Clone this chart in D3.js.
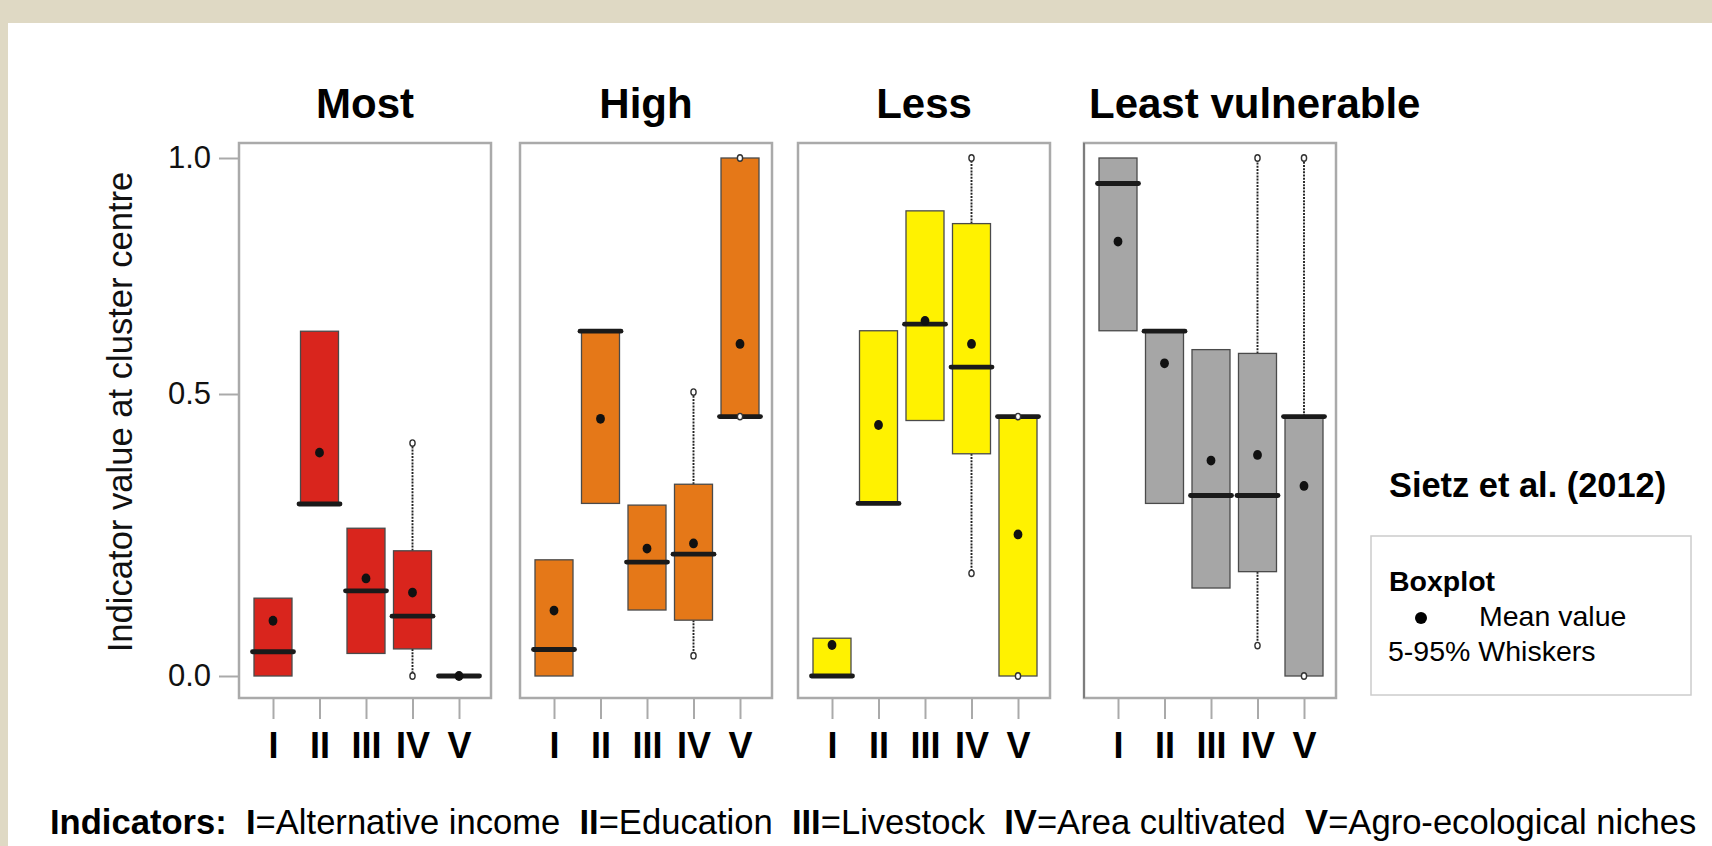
<!DOCTYPE html>
<html><head><meta charset="utf-8">
<script src="https://cdn.jsdelivr.net/npm/d3@7"></script>
<style>
html,body{margin:0;padding:0;background:#fff;}
svg{display:block;font-family:"Liberation Sans",Arial,Helvetica,sans-serif;}
</style>
</head><body>
<svg id="chart" width="1712" height="846"></svg>
<script>
// ---------------- data ----------------
const clusters = ["Most", "High", "Less", "Least vulnerable"];
const indicators = ["I", "II", "III", "IV", "V"];
const boxColors = ["#d9251d", "#e57818", "#fff200", "#a6a6a6"];
const yTicks = [0, 0.5, 1.0];
// rows: clusters, columns: indicators I..V
const q1 = [
  [0.000, 0.305, 0.040, 0.048, 0.000],
  [0.000, 0.306, 0.117, 0.099, 0.460],
  [0.000, 0.306, 0.453, 0.394, 0.000],
  [0.634, 0.306, 0.156, 0.185, 0.000]
];
const median = [
  [0.043, 0.305, 0.151, 0.106, 0.000],
  [0.047, 0.633, 0.202, 0.216, 0.460],
  [0.000, 0.306, 0.648, 0.557, 0.460],
  [0.946, 0.633, 0.320, 0.320, 0.460]
];
const q3 = [
  [0.138, 0.633, 0.262, 0.222, 0.000],
  [0.206, 0.633, 0.303, 0.340, 1.000],
  [0.067, 0.634, 0.888, 0.861, 0.460],
  [1.000, 0.633, 0.594, 0.586, 0.460]
];
const mean = [
  [0.098, 0.396, 0.173, 0.148, 0.000],
  [0.116, 0.456, 0.226, 0.235, 0.606],
  [0.055, 0.445, 0.655, 0.606, 0.251],
  [0.823, 0.565, 0.382, 0.392, 0.337]
];
const whiskLo = [
  [null, null, null, 0.000, null],
  [null, null, null, 0.036, 0.460],
  [null, null, null, 0.182, 0.000],
  [null, null, null, 0.054, 0.000]
];
const whiskHi = [
  [null, null, null, 0.413, null],
  [null, null, null, 0.504, 1.000],
  [null, null, null, 1.000, 0.460],
  [null, null, null, 1.000, 1.000]
];
const footerParts = [
  ["Indicators:", true], ["  ", false],
  ["I", true], ["=Alternative income  ", false],
  ["II", true], ["=Education  ", false],
  ["III", true], ["=Livestock  ", false],
  ["IV", true], ["=Area cultivated  ", false],
  ["V", true], ["=Agro-ecological niches", false]
];

// ---------------- layout ----------------
const svg = d3.select("#chart");
const W = 1712, H = 846;
svg.append("rect").attr("width", W).attr("height", H).attr("fill", "#dfd9c4");
svg.append("rect").attr("x", 8).attr("y", 23).attr("width", W - 8).attr("height", H - 23).attr("fill", "#ffffff");

const panelLeft = [239, 520, 798, 1084];
const panelW = 252, panelTop = 143, panelBottom = 698;
const y = d3.scaleLinear().domain([0, 0.5, 1]).range([676, 394, 158]);
const boxW = 38;

// y axis (only left panel)
const yAxis = d3.axisLeft(y).tickValues(yTicks).tickFormat(d3.format(".1f")).tickSize(20).tickPadding(8);
const gy = svg.append("g").attr("transform", `translate(${panelLeft[0]},0)`).call(yAxis);
gy.select(".domain").remove();
gy.selectAll(".tick line").attr("stroke", "#aaaaaa").attr("stroke-width", 2);
gy.selectAll(".tick text").attr("font-size", 31).attr("fill", "#111").attr("font-family", "Liberation Sans, Arial, sans-serif");

svg.append("text")
  .attr("transform", "translate(132,412) rotate(-90)")
  .attr("text-anchor", "middle")
  .attr("font-size", 34.6).attr("fill", "#111")
  .text("Indicator value at cluster centre");

clusters.forEach((name, c) => {
  const left = panelLeft[c];
  const x = d3.scalePoint().domain(indicators).range([left + 34, left + 220]);
  const g = svg.append("g");

  // frame
  g.append("rect").attr("x", left).attr("y", panelTop)
    .attr("width", panelW).attr("height", panelBottom - panelTop)
    .attr("fill", "#fff").attr("stroke", "#aaaaaa").attr("stroke-width", 2.5);
  if (c === 3) {
    g.append("line").attr("x1", left).attr("x2", left).attr("y1", panelTop).attr("y2", panelBottom)
      .attr("stroke", "#6e6e6e").attr("stroke-width", 1.5);
  }

  // title
  const t = g.append("text").attr("y", 118).attr("font-size", 42).attr("font-weight", "bold").attr("fill", "#000").text(name);
  if (c < 3) t.attr("x", left + panelW / 2).attr("text-anchor", "middle");
  else t.attr("x", left + 5).attr("text-anchor", "start");

  // x axis
  const xAxis = d3.axisBottom(x).tickSize(20).tickPadding(13);
  const gx = g.append("g").attr("transform", `translate(0,${panelBottom + 1})`).call(xAxis);
  gx.select(".domain").remove();
  gx.selectAll(".tick line").attr("stroke", "#aaaaaa").attr("stroke-width", 2);
  gx.selectAll(".tick text").attr("font-size", 36).attr("font-weight", "bold").attr("fill", "#000")
    .attr("font-family", "Liberation Sans, Arial, sans-serif");

  indicators.forEach((ind, i) => {
    const cx = x(ind);
    const lo = whiskLo[c][i], hi = whiskHi[c][i];
    // whiskers
    if (hi !== null && hi > q3[c][i]) {
      g.append("line").attr("x1", cx).attr("x2", cx).attr("y1", y(q3[c][i])).attr("y2", y(hi))
        .attr("stroke", "#222").attr("stroke-width", 1.9).attr("stroke-dasharray", "2,1.2");
    }
    if (lo !== null && lo < q1[c][i]) {
      g.append("line").attr("x1", cx).attr("x2", cx).attr("y1", y(q1[c][i])).attr("y2", y(lo))
        .attr("stroke", "#222").attr("stroke-width", 1.9).attr("stroke-dasharray", "2,1.2");
    }
    // box
    g.append("rect").attr("x", cx - boxW / 2).attr("y", y(q3[c][i]))
      .attr("width", boxW).attr("height", Math.max(0, y(q1[c][i]) - y(q3[c][i])))
      .attr("fill", boxColors[c]).attr("stroke", "#4a4a4a").attr("stroke-width", 1.3);
    // median
    g.append("line").attr("x1", cx - boxW / 2 - 1.5).attr("x2", cx + boxW / 2 + 1.5)
      .attr("y1", y(median[c][i])).attr("y2", y(median[c][i]))
      .attr("stroke", "#1a1a1a").attr("stroke-width", 4.8).attr("stroke-linecap", "round");
    // whisker end circles
    [lo, hi].forEach(v => {
      if (v !== null) {
        g.append("ellipse").attr("cx", cx).attr("cy", y(v)).attr("rx", 2.6).attr("ry", 3.2)
          .attr("fill", "#fff").attr("stroke", "#333").attr("stroke-width", 1.4);
      }
    });
    // mean
    g.append("ellipse").attr("cx", cx).attr("cy", y(mean[c][i])).attr("rx", 4.4).attr("ry", 4.9).attr("fill", "#111");
  });
});

// source + legend
svg.append("text").attr("x", 1389).attr("y", 497).attr("font-size", 34.4).attr("font-weight", "bold")
  .attr("fill", "#000").text("Sietz et al. (2012)");
svg.append("rect").attr("x", 1371).attr("y", 536).attr("width", 320).attr("height", 159)
  .attr("fill", "#fff").attr("stroke", "#cccccc").attr("stroke-width", 1.5);
svg.append("text").attr("x", 1389).attr("y", 591).attr("font-size", 28.5).attr("font-weight", "bold")
  .attr("fill", "#000").text("Boxplot");
svg.append("circle").attr("cx", 1421).attr("cy", 618).attr("r", 6).attr("fill", "#000");
svg.append("text").attr("x", 1479).attr("y", 626).attr("font-size", 28.5).attr("fill", "#000").text("Mean value");
svg.append("text").attr("x", 1388).attr("y", 661).attr("font-size", 28.5).attr("fill", "#000").text("5-95% Whiskers");

// footer
const foot = svg.append("text").attr("x", 50).attr("y", 834).attr("font-size", 34.6).attr("fill", "#000")
  .attr("xml:space", "preserve").style("white-space", "pre");
footerParts.forEach(([s, b]) => {
  foot.append("tspan").attr("font-weight", b ? "bold" : "normal").text(s);
});
</script>
</body></html>
